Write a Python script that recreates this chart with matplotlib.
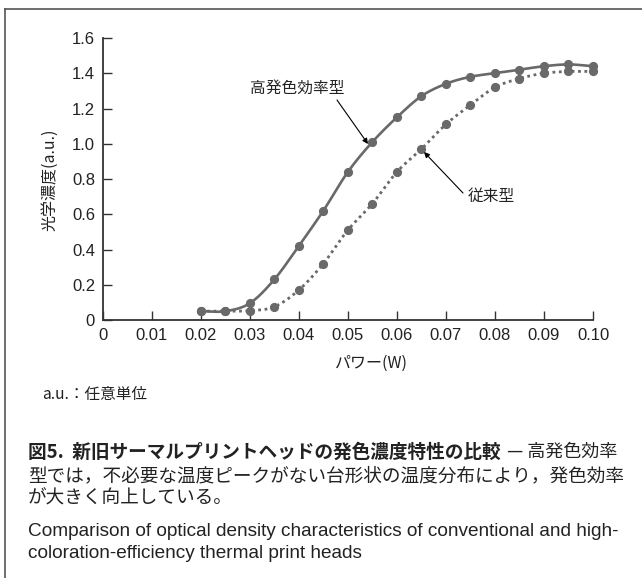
import numpy as np
import matplotlib
matplotlib.use("Agg")
import matplotlib.pyplot as plt
from matplotlib.lines import Line2D

# ---------------- data ----------------
power_high = [0.020, 0.025, 0.030, 0.035, 0.040, 0.045, 0.050, 0.055, 0.060,
              0.065, 0.070, 0.075, 0.080, 0.085, 0.090, 0.095, 0.100]
density_high = [0.05, 0.05, 0.095, 0.23, 0.42, 0.62, 0.84, 1.01, 1.15,
                1.27, 1.34, 1.38, 1.40, 1.42, 1.44, 1.45, 1.44]
power_conv = [0.020, 0.025, 0.030, 0.035, 0.040, 0.045, 0.050, 0.055, 0.060,
              0.065, 0.070, 0.075, 0.080, 0.085, 0.090, 0.095, 0.100]
density_conv = [0.05, 0.05, 0.053, 0.075, 0.17, 0.32, 0.51, 0.66, 0.84,
                0.97, 1.11, 1.22, 1.32, 1.37, 1.40, 1.41, 1.41]
x_ticks = [0, 0.01, 0.02, 0.03, 0.04, 0.05, 0.06, 0.07, 0.08, 0.09, 0.10]
x_tick_labels = ["0", "0.01", "0.02", "0.03", "0.04", "0.05", "0.06", "0.07", "0.08", "0.09", "0.10"]
y_ticks = [0, 0.2, 0.4, 0.6, 0.8, 1.0, 1.2, 1.4, 1.6]
y_tick_labels = ["0", "0.2", "0.4", "0.6", "0.8", "1.0", "1.2", "1.4", "1.6"]
label_high = "高発色効率型"
label_conv = "従来型"
y_label = "光学濃度(a.u.)"
x_label = "パワー(W)"
note = "a.u.：任意単位"
cap_bold = "図5.  新旧サーマルプリントヘッドの発色濃度特性の比較"
cap_reg1 = "— 高発色効率"
cap_line2 = "型では，不必要な温度ピークがない台形状の温度分布により，発色効率"
cap_line3 = "が大きく向上している。"
cap_en1 = "Comparison of optical density characteristics of conventional and high-"
cap_en2 = "coloration-efficiency thermal print heads"

W, H = 642, 578
plt.rcParams['font.family'] = ['Liberation Sans', 'Noto Sans CJK JP', 'DejaVu Sans']
JP = ['Noto Sans CJK JP', 'DejaVu Sans']

fig = plt.figure(figsize=(W / 100, H / 100), dpi=100)
fig.patch.set_facecolor('white')

# axes placement (pixel based)
x0p, x1p, y0p, y1p = 102.7, 593.0, 320.0, 38.0
ax = fig.add_axes([x0p / W, 1 - y0p / H, (x1p - x0p) / W, (y0p - y1p) / H])
ax.set_xlim(0, 0.10)
ax.set_ylim(0, 1.6)
for s in ['top', 'right']:
    ax.spines[s].set_visible(False)
for s in ['left', 'bottom']:
    ax.spines[s].set_color('#333333')
    ax.spines[s].set_linewidth(1.3)
ax.set_xticks(x_ticks)
ax.set_xticklabels(x_tick_labels)
ax.set_yticks(y_ticks)
ax.set_yticklabels(y_tick_labels)
ax.tick_params(axis='both', direction='in', length=6.5, width=1.0, color='#333333',
               labelsize=12, labelcolor='#222222')
ax.tick_params(axis='x', pad=6.0)
ax.tick_params(axis='y', pad=5.5)
ax.patch.set_alpha(0)


def catmull(xs, ys, n=20):
    xs = np.asarray(xs, float)
    ys = np.asarray(ys, float)
    P = np.column_stack([xs, ys])
    P = np.vstack([P[0] * 2 - P[1], P, P[-1] * 2 - P[-2]])
    out = []
    t = np.linspace(0, 1, n, endpoint=False)[:, None]
    for i in range(1, len(P) - 2):
        p0, p1, p2, p3 = P[i - 1], P[i], P[i + 1], P[i + 2]
        seg = 0.5 * ((2 * p1) + (-p0 + p2) * t + (2 * p0 - 5 * p1 + 4 * p2 - p3) * t ** 2
                     + (-p0 + 3 * p1 - 3 * p2 + p3) * t ** 3)
        out.append(seg)
    out.append(P[-2][None, :])
    out = np.vstack(out)
    return out[:, 0], out[:, 1]


col = '#696969'
sx, sy = catmull(power_conv, density_conv)
ax.plot(sx, sy, color=col, lw=2.0, linestyle=(0, (1, 1.3)), clip_on=False, zorder=2)
ax.plot(power_conv, density_conv, 'o', color=col, ms=5.6, clip_on=False, zorder=3)
sx, sy = catmull(power_high, density_high)
ax.plot(sx, sy, color=col, lw=1.9, clip_on=False, zorder=4, solid_capstyle='round')
ax.plot(power_high, density_high, 'o', color=col, ms=5.6, clip_on=False, zorder=5)


def px2d(px, py):
    return ((px - x0p) / (x1p - x0p) * 0.10, (y0p - py) / (y0p - y1p) * 1.6)


arrow = dict(arrowstyle='-|>', lw=0.8, color='black', mutation_scale=8, shrinkA=0, shrinkB=0)
ax.annotate('', xy=px2d(368, 144), xytext=px2d(337, 100), arrowprops=arrow, zorder=6)
ax.annotate('', xy=px2d(424, 152), xytext=px2d(463, 193), arrowprops=arrow, zorder=6)
ax.text(*px2d(297, 88), label_high, family=JP, fontsize=11.3, ha='center', va='center', color='#222222')
ax.text(*px2d(491, 196), label_conv, family=JP, fontsize=11.3, ha='center', va='center', color='#222222')

fig.text(50 / W, 1 - 180 / H, y_label, family=JP, fontsize=11.5, rotation=90,
         ha='center', va='center', color='#222222')
fig.text(371 / W, 1 - 363 / H, x_label, family=JP, fontsize=11.5,
         ha='center', va='center', color='#222222')

# frame lines (left and top)
fig.add_artist(Line2D([5 / W, 5 / W], [0, 1 - 9 / H], transform=fig.transFigure, color='#555555', lw=1.2))
fig.add_artist(Line2D([5 / W, 1], [1 - 9 / H, 1 - 9 / H], transform=fig.transFigure, color='#555555', lw=1.2))

renderer = fig.canvas.get_renderer()


def fit(txt, xa, xb, y, size0, **kw):
    t = fig.text(xa / W, 1 - y / H, txt, fontsize=size0, ha='left', va='center', color='#222222', **kw)
    w = t.get_window_extent(renderer).width
    t.set_fontsize(size0 * (xb - xa) / w)
    return t


fit(note, 42, 147, 395, 11, family=JP)
tb = fit(cap_bold, 28, 500, 452, 13, family=JP, fontweight='bold')
fig.text(507 / W, 1 - 452 / H, cap_reg1, family=JP, fontsize=13, ha='left', va='center', color='#222222')
t2 = fit(cap_line2, 28, 623, 476, 13, family=JP)
fig.text(28 / W, 1 - 498 / H, cap_line3, family=JP, fontsize=t2.get_fontsize(), ha='left', va='center', color='#222222')
te = fit(cap_en1, 28, 623, 532, 12, family=['Liberation Sans'])
fig.text(28 / W, 1 - 554 / H, cap_en2, family=['Liberation Sans'], fontsize=te.get_fontsize(),
         ha='left', va='center', color='#222222')

fig.savefig('out.png', dpi=100, facecolor='white')
